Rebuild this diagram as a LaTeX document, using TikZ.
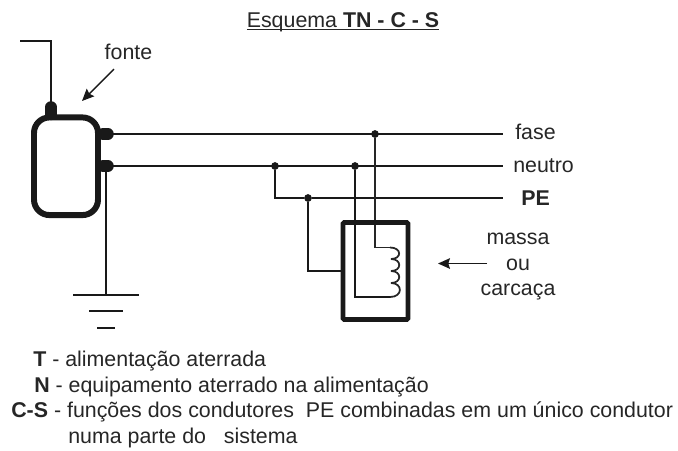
\documentclass[tikz,border=0pt]{standalone}
\usepackage{fontspec}
\setmainfont{Liberation Sans}
\usetikzlibrary{arrows.meta}
\tikzset{
  wire/.style={line width=1.6pt,black!90},
  thinwire/.style={line width=1.25pt,black!85},
  stub/.style={line width=8.2pt,line cap=round,black!90},
  dot/.style={circle,fill=black!90,inner sep=0pt,minimum size=5.5pt},
  label/.style={anchor=base west,inner sep=0pt,text=black!85},
  midlabel/.style={anchor=base,inner sep=0pt,text=black!85},
  pointer/.style={line width=1pt,black!90,-{Stealth[length=8.5pt,width=7.5pt,inset=1.2pt]}}
}
\begin{document}
\begin{tikzpicture}[x=0.025cm,y=-0.025cm,font=\fontsize{15.2pt}{18pt}\selectfont]
  \useasboundingbox (0,0) rectangle (678,450);
  %titulo
	\node[midlabel] (titulo) at (343,27) {\underline{\smash{Esquema \textbf{TN - C - S}}}};

  %pontos
	\node[dot] (jFase) at (375,134) {};
	\node[dot] (jNeutroA) at (275,166) {};
	\node[dot] (jNeutroB) at (355,166) {};
	\node[dot] (jPE) at (308,198) {};
	\coordinate (fFase) at (503,134);
	\coordinate (fNeutro) at (503,166);
	\coordinate (fPE) at (503,198);
	\coordinate (sFase) at (108,134);
	\coordinate (sNeutro) at (108,166);
	\coordinate (sTopo) at (51,107);
	\coordinate (aFio) at (20,41);
	\coordinate (coilA) at (390,247.5);
	\coordinate (coilB) at (390,297);
	\coordinate (terra) at (106,295);

  %condutores
	\draw[wire,line width=2pt] (sFase) -- (fFase);
	\draw[wire] (sNeutro) -- (fNeutro);
	\draw[wire] (jNeutroA) |- (jPE) -- (fPE);
	\draw[thinwire] (jFase) |- (coilA);
	\draw[wire] (jNeutroB) |- (coilB);
	\draw[wire] (sTopo) |- (aFio);
	\draw[wire] (106,166) -- (terra);

  %bobina
	\draw[thinwire] (coilA) .. controls (402,247.5) and (402,259) .. (391,259);
	\draw[thinwire] (391,259) .. controls (402,259) and (402,271) .. (391,271);
	\draw[thinwire] (391,271) .. controls (402,271) and (402,283) .. (391,283);
	\draw[thinwire] (391,283) .. controls (403,283) and (403,297) .. (coilB);

  %fonte
	\node[draw=black!90,line width=4.25pt,rounded corners=11pt,minimum width=1.6cm,minimum height=2.44cm,inner sep=0pt] (fonte) at (66,166.25) {};
	\draw[stub] (fonte.north -| sTopo) -- (sTopo);
	\draw[stub] (103,134) -- (sFase);
	\draw[stub] (103,166) -- (sNeutro);

  %carcaca
	\node[draw=black!90,line width=3.5pt,rounded corners=1pt,minimum width=1.625cm,minimum height=2.425cm,inner sep=0pt] (massa) at (375.5,271) {};
	\draw[wire] (jPE) |- (massa.west);

  %terra
	\coordinate (tA) at (73,295);
	\coordinate (tB) at (139,295);
	\coordinate (tC) at (89,311);
	\coordinate (tD) at (123,311);
	\coordinate (tE) at (97,328);
	\coordinate (tF) at (115,328);
	\draw[wire] (tA) -- (tB);
	\draw[wire] (tC) -- (tD);
	\draw[wire] (tE) -- (tF);

  %setas
	\node[midlabel] (lFonte) at (128.5,59) {fonte};
	\coordinate (oFonte) at (114,69);
	\coordinate (pFonte) at (82,101);
	\draw[pointer] (oFonte) -- (pFonte);
	\node[midlabel] (lMassa) at (518,244) {massa};
	\node[midlabel] (lOu) at (518,270) {ou};
	\node[midlabel] (lCarcaca) at (518,295) {carcaça};
	\coordinate (oMassa) at (487,263.5);
	\coordinate (pMassa) at (438,263.5);
	\draw[pointer] (oMassa) -- (pMassa);

  %fios
	\node[label] (lFase) at (515,139) {fase};
	\node[label] (lNeutro) at (513,172) {neutro};
	\node[label] (lPE) at (521,205) {\textbf{PE}};

  %legenda
	\node[label] (lT) at (33,366) {\textbf{T} - alimentação aterrada};
	\node[label] (lN) at (34,392) {\textbf{N} - equipamento aterrado na alimentação};
	\node[label] (lCS) at (11,417) {\textbf{C-S} - funções dos condutores\ \ PE combinadas em um único condutor};
	\node[label] (lParte) at (68,443) {numa parte do\ \ \ sistema};
\end{tikzpicture}
\end{document}
